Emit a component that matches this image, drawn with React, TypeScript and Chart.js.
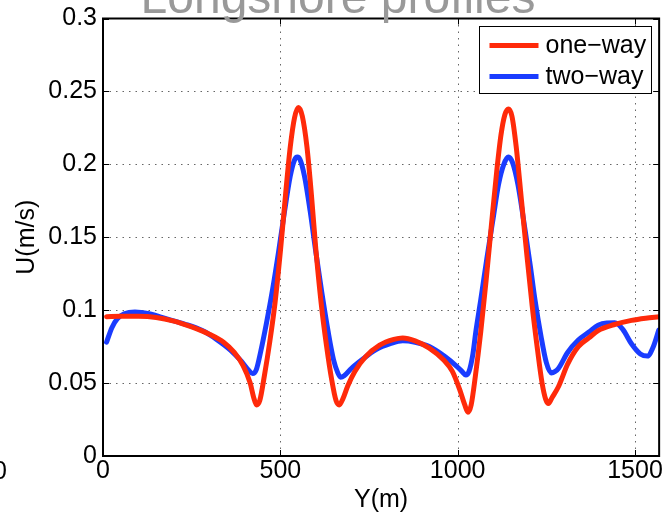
import React, { useEffect, useRef } from 'react';
import { Chart, registerables } from 'chart.js';

Chart.register(...registerables);

const TITLE = 'Longshore profiles';
const X_LABEL = 'Y(m)';
const Y_LABEL = 'U(m/s)';
const SERIES_NAMES = ['one−way', 'two−way'];
const SERIES_COLORS = ['#ff2a0a', '#1a3cff'];
const X_TICKS = [0, 500, 1000, 1500];
const Y_TICKS = [0, 0.05, 0.1, 0.15, 0.2, 0.25, 0.3];
const X_MIN = 0;
const X_MAX = 1568;
const Y_MIN = 0;
const Y_MAX = 0.3;

const oneWayY = [
  10, 50, 100, 150, 200, 250, 300, 340, 370, 395, 415, 425, 433, 442, 455, 470, 485, 500, 515, 528,
  540, 551, 562, 575, 588, 600, 615, 630, 645, 657, 666, 676, 690, 710, 740, 780, 820, 845, 880, 920,
  960, 985, 1005, 1020, 1029, 1038, 1050, 1065, 1080, 1095, 1110, 1122, 1133, 1143, 1153, 1165, 1180,
  1195, 1210, 1225, 1238, 1248, 1256, 1266, 1284, 1310, 1340, 1370, 1396, 1440, 1490, 1530, 1568,
];
const oneWayU = [
  0.0955, 0.0958, 0.0958, 0.095, 0.0925, 0.0885, 0.0835, 0.078, 0.071, 0.062, 0.05, 0.04, 0.035, 0.038,
  0.055, 0.078, 0.105, 0.14, 0.18, 0.212, 0.232, 0.239, 0.233, 0.212, 0.178, 0.142, 0.105, 0.076, 0.052,
  0.038, 0.035, 0.039, 0.048, 0.058, 0.068, 0.076, 0.08, 0.081, 0.079, 0.074, 0.066, 0.058, 0.046, 0.035,
  0.03, 0.035, 0.055, 0.085, 0.12, 0.158, 0.195, 0.22, 0.234, 0.238, 0.233, 0.212, 0.175, 0.138, 0.103,
  0.073, 0.05, 0.039, 0.036, 0.04, 0.0475, 0.063, 0.075, 0.081, 0.086, 0.09, 0.093, 0.0945, 0.0955,
];

const twoWayY = [
  10, 25, 40, 60, 90, 130, 180, 230, 280, 320, 360, 390, 410, 422, 432, 445, 460, 478, 495, 512, 528,
  540, 548, 556, 568, 584, 600, 617, 635, 650, 662, 670, 680, 700, 730, 770, 810, 845, 880, 920, 965,
  995, 1012, 1023, 1032, 1043, 1051, 1065, 1082, 1100, 1115, 1130, 1143, 1155, 1170, 1190, 1205, 1218,
  1235, 1250, 1264, 1275, 1284, 1310, 1340, 1370, 1396, 1420, 1443, 1465, 1490, 1515, 1535, 1550, 1567,
];
const twoWayU = [
  0.078, 0.088, 0.094, 0.0975, 0.0988, 0.0975, 0.094, 0.0905, 0.086, 0.08, 0.0725, 0.065, 0.059, 0.0565,
  0.059, 0.072, 0.09, 0.114, 0.14, 0.168, 0.192, 0.203, 0.205, 0.203, 0.192, 0.168, 0.14, 0.112, 0.085,
  0.066, 0.057, 0.054, 0.055, 0.06, 0.066, 0.073, 0.077, 0.079, 0.078, 0.075, 0.068, 0.062, 0.058, 0.0555,
  0.058, 0.07, 0.085, 0.107, 0.135, 0.163, 0.186, 0.2, 0.205, 0.201, 0.186, 0.155, 0.13, 0.107, 0.082,
  0.064, 0.057, 0.058, 0.06, 0.071, 0.0795, 0.085, 0.0897, 0.0912, 0.0913, 0.087, 0.077, 0.07, 0.0685,
  0.074, 0.0863,
];

const FONT = "'Liberation Sans', Arial, Helvetica, sans-serif";

const decorPlugin = {
  id: 'decor',
  beforeDatasetsDraw(chart: any) {
    const { ctx, chartArea: a, scales } = chart;
    const x = scales.x;
    const y = scales.y;
    ctx.save();
    ctx.strokeStyle = '#666';
    ctx.lineWidth = 1;
    ctx.setLineDash([1.5, 5]);
    for (const t of X_TICKS) {
      const px = Math.round(x.getPixelForValue(t)) + 0.5;
      if (px <= a.left + 2 || px >= a.right - 2) continue;
      ctx.beginPath();
      ctx.moveTo(px, a.top);
      ctx.lineTo(px, a.bottom);
      ctx.stroke();
    }
    for (const t of Y_TICKS) {
      const py = Math.round(y.getPixelForValue(t)) + 0.5;
      if (py <= a.top + 2 || py >= a.bottom - 2) continue;
      ctx.beginPath();
      ctx.moveTo(a.left, py);
      ctx.lineTo(a.right, py);
      ctx.stroke();
    }
    ctx.restore();
  },
  afterDatasetsDraw(chart: any) {
    const { ctx, chartArea: a, scales } = chart;
    const x = scales.x;
    const y = scales.y;
    ctx.save();
    ctx.setLineDash([]);
    ctx.strokeStyle = '#000';
    // inward tick marks
    ctx.lineWidth = 1;
    const tl = 6;
    for (const t of X_TICKS) {
      const px = Math.round(x.getPixelForValue(t)) + 0.5;
      ctx.beginPath();
      ctx.moveTo(px, a.bottom);
      ctx.lineTo(px, a.bottom - tl);
      ctx.moveTo(px, a.top);
      ctx.lineTo(px, a.top + tl);
      ctx.stroke();
    }
    for (const t of Y_TICKS) {
      const py = Math.round(y.getPixelForValue(t)) + 0.5;
      ctx.beginPath();
      ctx.moveTo(a.left, py);
      ctx.lineTo(a.left + tl, py);
      ctx.moveTo(a.right, py);
      ctx.lineTo(a.right - tl, py);
      ctx.stroke();
    }
    // box
    ctx.lineWidth = 2;
    ctx.strokeRect(a.left, a.top, a.right - a.left, a.bottom - a.top);

    // legend
    const lw = 172;
    const lh = 67;
    const lx = Math.round(a.right - 8 - lw) + 0.5;
    const ly = Math.round(a.top + 7) + 0.5;
    ctx.fillStyle = '#fff';
    ctx.fillRect(lx, ly, lw, lh);
    ctx.lineWidth = 1;
    ctx.strokeStyle = '#000';
    ctx.strokeRect(lx, ly, lw, lh);
    const rows = [ly + 19, ly + 50];
    chart.data.datasets.forEach((ds: any, i: number) => {
      const ry = rows[i];
      ctx.strokeStyle = ds.borderColor;
      ctx.lineWidth = 5;
      ctx.beginPath();
      ctx.moveTo(lx + 10, ry);
      ctx.lineTo(lx + 59, ry);
      ctx.stroke();
      ctx.fillStyle = '#000';
      ctx.font = `25px ${FONT}`;
      ctx.textAlign = 'left';
      ctx.textBaseline = 'middle';
      ctx.fillText(ds.label, lx + 66, ry + 1);
    });
    ctx.restore();
  },
  afterDraw(chart: any) {
    const { ctx, chartArea: a } = chart;
    ctx.save();
    ctx.fillStyle = '#999';
    ctx.font = `48px ${FONT}`;
    ctx.textAlign = 'center';
    ctx.textBaseline = 'alphabetic';
    ctx.fillText(TITLE, 338, 13);
    // clipped label at the left edge
    ctx.fillStyle = '#000';
    ctx.font = `25px ${FONT}`;
    ctx.textBaseline = 'middle';
    ctx.fillText('0', 0, a.bottom + 16);
    ctx.restore();
  },
};

export default function App() {
  const ref = useRef<HTMLCanvasElement | null>(null);

  useEffect(() => {
    const canvas = ref.current;
    if (!canvas) return;
    const tickFont = { family: FONT, size: 25, lineHeight: 1 };
    const chart = new Chart(canvas, {
      type: 'line',
      data: {
        datasets: [
          {
            label: SERIES_NAMES[0],
            data: oneWayY.map((v, i) => ({ x: v, y: oneWayU[i] })),
            borderColor: SERIES_COLORS[0],
            backgroundColor: SERIES_COLORS[0],
            borderWidth: 5,
            pointRadius: 0,
            fill: false,
            cubicInterpolationMode: 'monotone',
            borderJoinStyle: 'round',
            borderCapStyle: 'round',
          },
          {
            label: SERIES_NAMES[1],
            data: twoWayY.map((v, i) => ({ x: v, y: twoWayU[i] })),
            borderColor: SERIES_COLORS[1],
            backgroundColor: SERIES_COLORS[1],
            borderWidth: 5,
            pointRadius: 0,
            fill: false,
            cubicInterpolationMode: 'monotone',
            borderJoinStyle: 'round',
            borderCapStyle: 'round',
          },
        ],
      },
      options: {
        responsive: false,
        animation: false,
        devicePixelRatio: 1,
        layout: { padding: { top: 18, right: 4, left: 0, bottom: 0 } },
        plugins: {
          legend: { display: false },
          tooltip: { enabled: false },
          title: { display: false },
        },
        scales: {
          x: {
            type: 'linear',
            min: X_MIN,
            max: X_MAX,
            afterBuildTicks: (s: any) => {
              s.ticks = X_TICKS.map((v) => ({ value: v }));
            },
            afterFit: (s: any) => {
              s.height = 59;
            },
            grid: { display: false, drawTicks: false },
            border: { display: false },
            ticks: {
              color: '#000',
              font: tickFont,
              padding: 3,
              maxRotation: 0,
              autoSkip: false,
              callback: (v: any) => String(v),
            },
            title: {
              display: true,
              text: X_LABEL,
              color: '#000',
              font: tickFont,
              padding: { top: 0, bottom: 2 },
            },
          },
          y: {
            type: 'linear',
            min: Y_MIN,
            max: Y_MAX,
            afterBuildTicks: (s: any) => {
              s.ticks = Y_TICKS.map((v) => ({ value: v }));
            },
            afterFit: (s: any) => {
              s.width = 103;
            },
            grid: { display: false, drawTicks: false },
            border: { display: false },
            ticks: {
              color: '#000',
              font: tickFont,
              padding: 6,
              autoSkip: false,
              callback: (v: any) => String(v),
            },
            title: {
              display: true,
              text: Y_LABEL,
              color: '#000',
              font: tickFont,
              padding: { top: 15, bottom: 0 },
            },
          },
        },
      },
      plugins: [decorPlugin],
    } as any);
    return () => chart.destroy();
  }, []);

  return (
    <div style={{ position: 'fixed', left: 0, top: 0, width: 666, height: 515, background: '#fff' }}>
      <canvas ref={ref} width={666} height={515} style={{ width: 666, height: 515, display: 'block' }} />
    </div>
  );
}
